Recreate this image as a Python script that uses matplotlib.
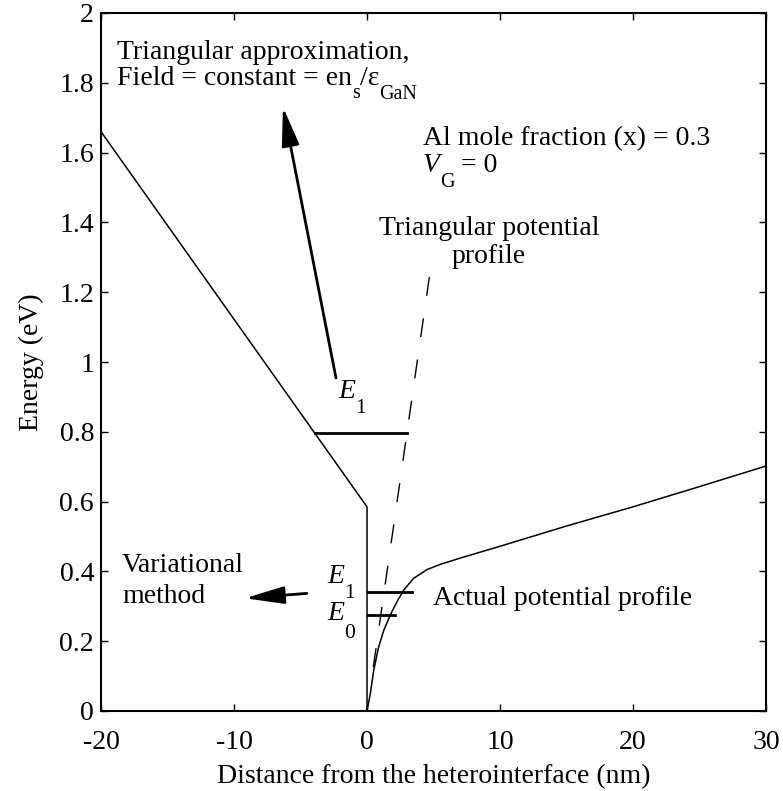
import matplotlib
matplotlib.use("Agg")
import matplotlib.pyplot as plt

plt.rcParams["font.family"] = ["Liberation Serif", "DejaVu Serif"]
plt.rcParams["mathtext.fontset"] = "custom"
plt.rcParams["mathtext.rm"] = "Liberation Serif"

# --- data -------------------------------------------------------------
# AlGaN barrier conduction band (x < 0) with the band offset at x = 0
barrier_x = [-20.0, 0.0, 0.0]
barrier_y = [1.66, 0.585, 0.0]

# self-consistent conduction band in GaN
well_x = [0, 0.25, 0.5, 0.85, 1.25, 1.75, 2.25, 2.75, 3.5, 4.5, 5.5, 7, 10, 15, 20, 25, 30]
well_y = [0, 0.05, 0.115, 0.18, 0.23, 0.275, 0.313, 0.346, 0.38, 0.405, 0.42, 0.438,
          0.472, 0.53, 0.585, 0.643, 0.702]

# triangular approximation of the well
tri_x = [0.475, 4.75]
tri_y = [0.126, 1.26]

# subband energies
e1_tri_x = [-3.94, 3.0]
e1_tri_y = [0.797, 0.797]
e1_var_x = [0.1, 3.37]
e1_var_y = [0.342, 0.342]
e0_var_x = [0.1, 2.1]
e0_var_y = [0.275, 0.275]

# annotation arrows (tail, tip)
arrow_tri = [(-2.33, 0.954), (-6.32, 1.731)]
arrow_var = [(-4.53, 0.337), (-9.17, 0.323)]

x_ticks = [-20, -10, 0, 10, 20, 30]
y_ticks = [0, 0.2, 0.4, 0.6, 0.8, 1.0, 1.2, 1.4, 1.6, 1.8, 2.0]
y_tick_labels = ["0", "0.2", "0.4", "0.6", "0.8", "1", "1.2", "1.4", "1.6", "1.8", "2"]

# --- figure -------------------------------------------------------------
fig = plt.figure(figsize=(7.83, 7.91), dpi=100)
ax = fig.add_axes([101 / 783, 1 - 711 / 791, (766 - 101) / 783, (711 - 13) / 791])

ax.plot(barrier_x, barrier_y, color="k", lw=1.1)
ax.plot(well_x, well_y, color="k", lw=1.1)
ax.plot(tri_x, tri_y, color="k", lw=1.0, ls=(0, (13.7, 16.3)))
ax.plot(e1_tri_x, e1_tri_y, color="k", lw=2.0)
ax.plot(e1_var_x, e1_var_y, color="k", lw=2.0)
ax.plot(e0_var_x, e0_var_y, color="k", lw=2.0)

for tail, tip in (arrow_tri, arrow_var):
    ax.annotate("", xy=tip, xytext=tail,
                arrowprops=dict(arrowstyle="-|>,head_length=1.7,head_width=0.38",
                                mutation_scale=14, lw=2.0, color="k",
                                shrinkA=0, shrinkB=0))

ax.set_xlim(-20, 30)
ax.set_ylim(0, 2)
ax.set_xticks(x_ticks)
ax.set_xticklabels([str(v) for v in x_ticks])
ax.set_yticks(y_ticks)
ax.set_yticklabels(y_tick_labels)
ax.tick_params(direction="in", length=5, width=1.0, labelsize=20,
               top=True, right=True)
ax.tick_params(axis="x", pad=14)
ax.tick_params(axis="y", pad=5)
for sp in ax.spines.values():
    sp.set_linewidth(1.5)

ax.set_xlabel("Distance from the heterointerface (nm)", fontsize=20, labelpad=6)
ax.set_ylabel("Energy (eV)", fontsize=20, labelpad=11)

FS = 20
SUB = 14.5


def compound(x, y, pieces):
    """Write a run of text pieces side by side; each piece is
    (string, size, style, vertical offset in points)."""
    s0, size0, style0, _ = pieces[0]
    base = ax.text(x, y, s0, fontsize=size0, style=style0, va="baseline", ha="left")
    prev = base
    for s, size, style, dy in pieces[1:]:
        prev = ax.annotate(s, xy=(1, 0), xycoords=(prev, base), xytext=(0, dy),
                           textcoords="offset points", va="bottom", ha="left",
                           fontsize=size, style=style)
    return base


ax.text(-18.8, 1.868, "Triangular approximation,", fontsize=FS, va="baseline")
compound(-18.8, 1.795, [("Field = constant = en", FS, "normal", 0),
                        ("s", SUB, "normal", -9),
                        ("/ε", FS, "normal", 0),
                        ("GaN", SUB, "normal", -9.5)])

ax.text(4.21, 1.622, "Al mole fraction (x) = 0.3", fontsize=FS, va="baseline")
compound(4.21, 1.545, [("V", FS, "italic", 0),
                       ("G", SUB, "normal", -10),
                       (" = 0", FS, "normal", 0)])

ax.text(9.17, 1.364, "Triangular potential", fontsize=FS, va="baseline", ha="center")
ax.text(9.17, 1.284, "profile", fontsize=FS, va="baseline", ha="center")

ax.text(4.96, 0.304, "Actual potential profile", fontsize=FS, va="baseline")

ax.text(-18.42, 0.398, "Variational", fontsize=FS, va="baseline")
ax.text(-18.42, 0.309, "method", fontsize=FS, va="baseline")

compound(-3.0, 0.367, [("E", FS, "italic", 0), ("1", 15.5, "normal", -10)])
compound(-3.0, 0.261, [("E", FS, "italic", 0), ("0", 15.5, "normal", -12)])
compound(-2.18, 0.897, [("E", FS, "italic", 0), ("1", 15.5, "normal", -10)])

fig.savefig("out.png", dpi=100)
